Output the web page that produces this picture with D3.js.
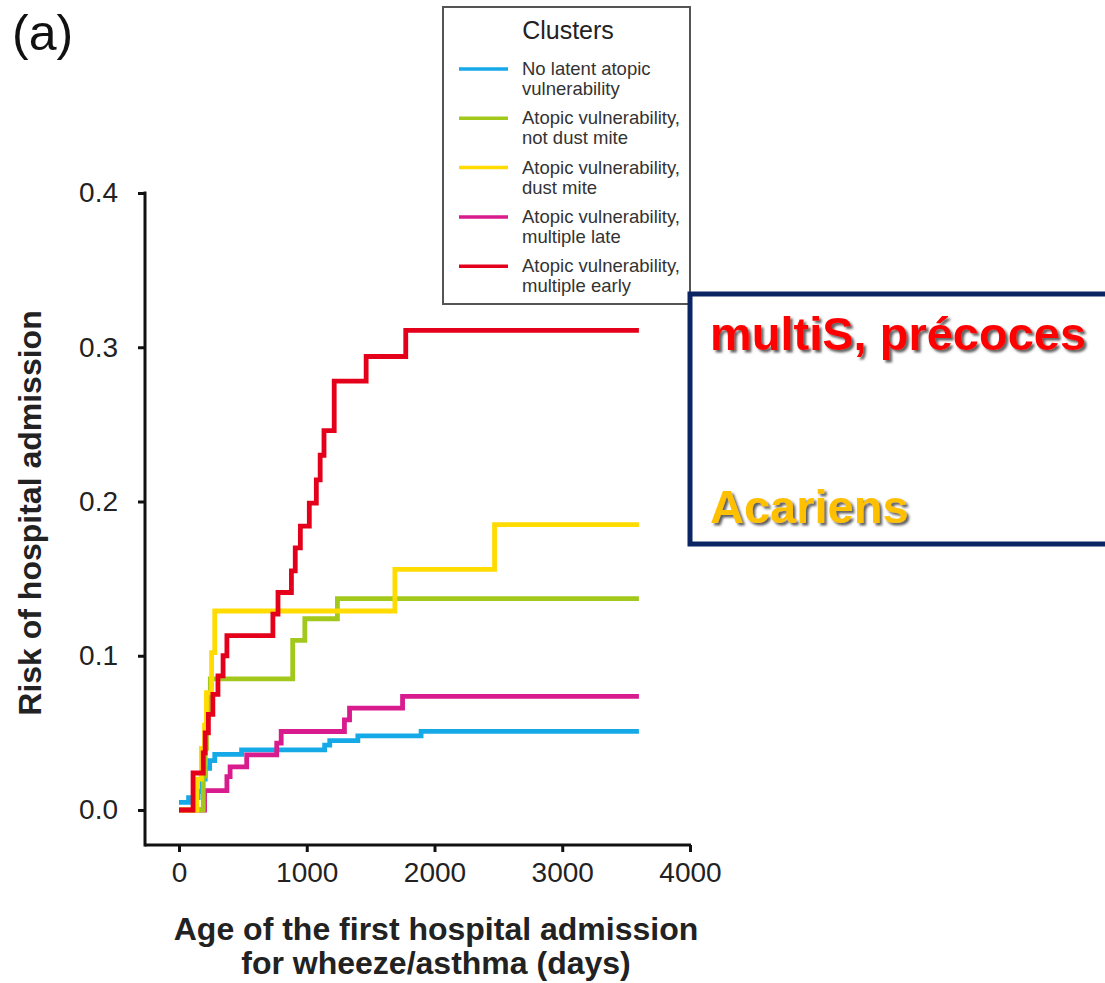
<!doctype html>
<html>
<head>
<meta charset="UTF-8">
<title>Risk of hospital admission</title>
<script src="https://cdn.jsdelivr.net/npm/d3@7"></script>
<style>
  body { margin: 0; background: #fff; }
  svg { display: block; font-family: "Liberation Sans", Arial, sans-serif; }
</style>
</head>
<body>
<script>
// step points [day, risk]
var noLatent      = [[0,0.005],[75,0.008],[150,0.012],[180,0.02],[205,0.027],[240,0.032],[280,0.036],[490,0.039],[1140,0.042],[1180,0.045],[1400,0.048],[1895,0.051]];
var multipleLate  = [[0,0],[200,0.0125],[375,0.0216],[400,0.028],[530,0.0357],[765,0.0433],[800,0.0509],[1295,0.0584],[1335,0.066],[1750,0.0736]];
var notDustMite   = [[0,0],[190,0.022],[205,0.04],[215,0.06],[230,0.073],[245,0.085],[890,0.11],[985,0.124],[1240,0.137]];
var dustMite      = [[0,0],[140,0.02],[175,0.04],[200,0.055],[215,0.076],[255,0.102],[280,0.129],[1690,0.156],[2470,0.185]];
var multipleEarly = [[0,0],[110,0.024],[190,0.037],[205,0.05],[230,0.062],[265,0.075],[305,0.087],[345,0.1],[375,0.113],[735,0.127],[775,0.141],[880,0.155],[910,0.17],[950,0.184],[1020,0.199],[1075,0.214],[1105,0.23],[1135,0.246],[1215,0.278],[1465,0.294],[1775,0.311]];
var lastDay = 3600;

var clusterNames  = ["No latent atopic|vulnerability", "Atopic vulnerability,|not dust mite", "Atopic vulnerability,|dust mite", "Atopic vulnerability,|multiple late", "Atopic vulnerability,|multiple early"];
var clusterColors = ["#15a9e8", "#a3c81c", "#ffdb00", "#d81b8d", "#e4001b"];
var xTicks = [0, 1000, 2000, 3000, 4000];
var yTicks = [0, 0.1, 0.2, 0.3, 0.4];

var width = 1105, height = 983;
var svg = d3.select("body").append("svg").attr("width", width).attr("height", height);

var defs = svg.append("defs");
defs.append("filter").attr("id", "shadow").attr("x", "-5%").attr("y", "-20%").attr("width", "115%").attr("height", "150%")
  .append("feDropShadow").attr("dx", 2.5).attr("dy", 2.5).attr("stdDeviation", 0.8)
  .attr("flood-color", "#444").attr("flood-opacity", 0.85);

var x = d3.scaleLinear().domain([0, 4000]).range([179, 690]);
var y = d3.scaleLinear().domain([0, 0.4]).range([810, 193]);
var axisY = 845, axisX = 145;

// panel letter
svg.append("text").attr("x", 12).attr("y", 50).attr("font-size", 50).attr("fill", "#111").text("(a)");

// curves (drawn in order, red on top)
var series = [noLatent, multipleLate, notDustMite, dustMite, multipleEarly];
var colorIdx = [0, 3, 1, 2, 4];
var line = d3.line().x(function(d){ return x(d[0]); }).y(function(d){ return y(d[1]); }).curve(d3.curveStepAfter);
series.forEach(function(s, i) {
  var pts = s.concat([[lastDay, s[s.length-1][1]]]);
  svg.append("path").datum(pts)
    .attr("d", line)
    .attr("fill", "none")
    .attr("stroke", clusterColors[colorIdx[i]])
    .attr("stroke-width", 4.8);
});

// axes
var xAxis = svg.append("g").attr("transform", "translate(0," + axisY + ")")
  .call(d3.axisBottom(x).tickValues(xTicks).tickFormat(d3.format("d")).tickSize(7).tickSizeOuter(0).tickPadding(10));
xAxis.select(".domain").remove();
var yAxis = svg.append("g").attr("transform", "translate(" + axisX + ",0)")
  .call(d3.axisLeft(y).tickValues(yTicks).tickFormat(d3.format(".1f")).tickSize(7).tickSizeOuter(0).tickPadding(20));
yAxis.select(".domain").remove();
svg.selectAll(".tick line").attr("stroke", "#111").attr("stroke-width", 3);
svg.selectAll(".tick text").attr("font-size", 28).attr("fill", "#222").attr("font-family", "Liberation Sans, Arial, sans-serif");
svg.append("line").attr("x1", axisX).attr("x2", 691).attr("y1", axisY).attr("y2", axisY).attr("stroke", "#111").attr("stroke-width", 3);
svg.append("line").attr("x1", axisX).attr("x2", axisX).attr("y1", 191.5).attr("y2", axisY + 1.5).attr("stroke", "#111").attr("stroke-width", 3);

// axis titles
svg.append("text").attr("transform", "translate(41,513) rotate(-90)")
  .attr("text-anchor", "middle").attr("font-size", 32).attr("font-weight", "bold").attr("fill", "#222")
  .text("Risk of hospital admission");
svg.append("text").attr("x", 436).attr("y", 940).attr("text-anchor", "middle")
  .attr("font-size", 32).attr("font-weight", "bold").attr("fill", "#222")
  .text("Age of the first hospital admission");
svg.append("text").attr("x", 436).attr("y", 974).attr("text-anchor", "middle")
  .attr("font-size", 32).attr("font-weight", "bold").attr("fill", "#222")
  .text("for wheeze/asthma (days)");

// legend
var lg = svg.append("g");
lg.append("rect").attr("x", 443).attr("y", 7).attr("width", 247).attr("height", 297)
  .attr("fill", "#fff").attr("stroke", "#555").attr("stroke-width", 2);
lg.append("text").attr("x", 568).attr("y", 39).attr("text-anchor", "middle")
  .attr("font-size", 25).attr("fill", "#222").text("Clusters");
clusterNames.forEach(function(n, i) {
  var ly = 69 + i * 49.3;
  lg.append("line").attr("x1", 459).attr("x2", 508).attr("y1", ly).attr("y2", ly)
    .attr("stroke", clusterColors[i]).attr("stroke-width", 3.5);
  var parts = n.split("|");
  parts.forEach(function(p, j) {
    lg.append("text").attr("x", 522).attr("y", ly + 6 + j * 20)
      .attr("font-size", 18.5).attr("fill", "#333").text(p);
  });
});

// annotation box
svg.append("rect").attr("x", 690).attr("y", 294).attr("width", 440).attr("height", 250)
  .attr("fill", "#fff").attr("stroke", "#0b2464").attr("stroke-width", 5);
svg.append("text").attr("x", 710).attr("y", 350).attr("font-size", 47).attr("font-weight", "bold")
  .attr("fill", "#ff0000").attr("filter", "url(#shadow)").text("multiS, précoces");
svg.append("text").attr("x", 710).attr("y", 523).attr("font-size", 47).attr("font-weight", "bold")
  .attr("fill", "#ffc000").attr("filter", "url(#shadow)").text("Acariens");
</script>
</body>
</html>
